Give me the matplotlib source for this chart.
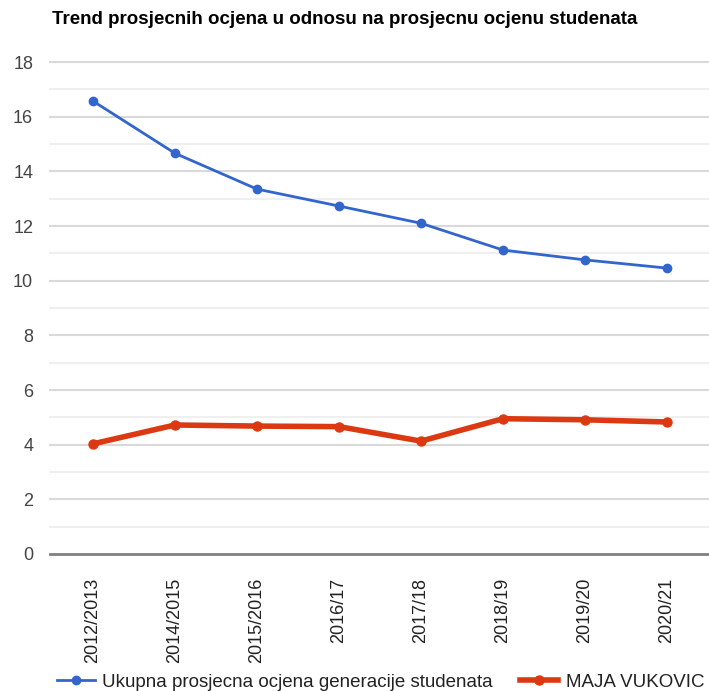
import matplotlib
matplotlib.use("Agg")
import matplotlib.pyplot as plt
from matplotlib.lines import Line2D
import numpy as np

plt.rcParams['font.family'] = ['Liberation Sans', 'DejaVu Sans']

categories = ["2012/2013", "2014/2015", "2015/2016", "2016/17", "2017/18", "2018/19", "2019/20", "2020/21"]
generacija = [16.57, 14.66, 13.35, 12.73, 12.10, 11.12, 10.76, 10.46]
maja = [4.03, 4.72, 4.68, 4.66, 4.13, 4.95, 4.91, 4.83]
series_names = ["Ukupna prosjecna ocjena generacije studenata", "MAJA VUKOVIC"]
title = "Trend prosjecnih ocjena u odnosu na prosjecnu ocjenu studenata"
yticks = [0, 2, 4, 6, 8, 10, 12, 14, 16, 18]

BLUE = "#3366CC"
RED = "#DC3912"

W, H = 709, 691
fig = plt.figure(figsize=(W / 100, H / 100), dpi=100)
ax_l, ax_r = 52, 708
ax = fig.add_axes([ax_l / W, 1 - 554 / H, (ax_r - ax_l) / W, (554 - 62) / H])

x = np.arange(len(categories))
ax.plot(x, generacija, color=BLUE, lw=2, marker='o', ms=6, zorder=4, solid_capstyle='round')
ax.plot(x, maja, color=RED, lw=4, marker='o', ms=6.5, zorder=4, solid_capstyle='round')

ax.set_xlim(-0.5, len(categories) - 0.5)
ax.set_ylim(0, 18)

xmin = -2 / (ax_r - ax_l)
for v in range(1, 19):
    col = "#d9d9d9" if v % 2 == 0 else "#efefef"
    ax.axhline(v, xmin=xmin, color=col, lw=1.5, zorder=1, clip_on=False)
ax.axhline(0, xmin=xmin, color="#808080", lw=2, zorder=3, clip_on=False)

for s in ax.spines.values():
    s.set_visible(False)

ax.set_yticks(yticks)
ax.set_yticklabels([str(t) for t in yticks])
ax.tick_params(axis='y', length=0, pad=13.5, labelsize=13, labelcolor="#444444")
ax.set_xticks(x)
ax.set_xticklabels(categories, rotation=90)
ax.tick_params(axis='x', length=0, pad=17, labelsize=13, labelcolor="#222222")

fig.text(52 / W, 1 - 20 / H, title, fontsize=13.5, fontweight='bold', color="#000000",
         ha='left', va='center')

handles = [Line2D([], [], color=BLUE, lw=2, marker='o', ms=6),
           Line2D([], [], color=RED, lw=4, marker='o', ms=6.5)]
leg = fig.legend(handles, series_names, loc='center left', bbox_to_anchor=(57 / W, 1 - 682 / H),
                 ncol=2, frameon=False, fontsize=13.5, handlelength=2.0, handletextpad=0.42,
                 columnspacing=1.45, borderaxespad=0, borderpad=0)
for t in leg.get_texts():
    t.set_color("#222222")

fig.savefig("out.png", dpi=100, facecolor="white")
